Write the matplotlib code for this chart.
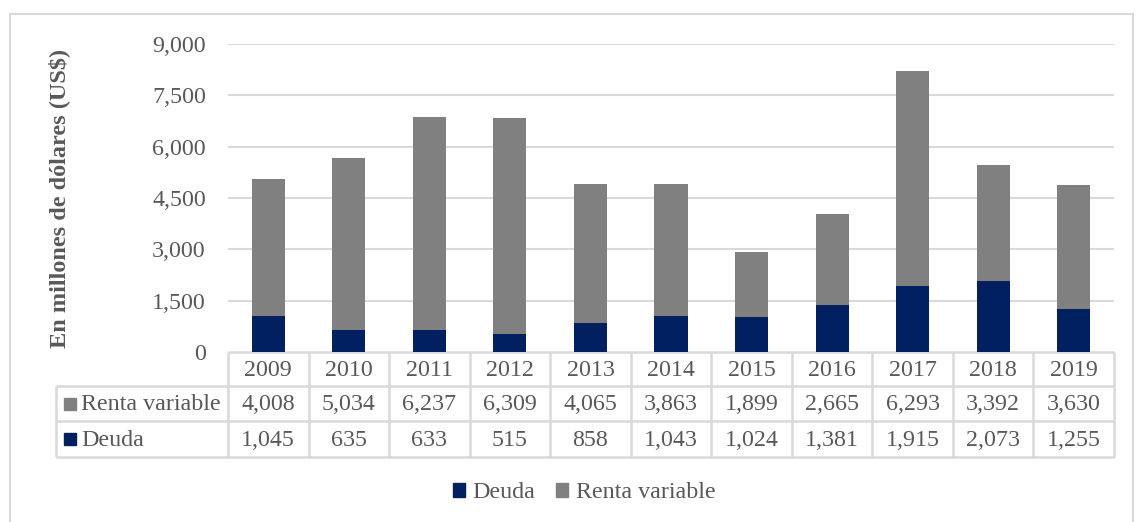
import matplotlib
matplotlib.use("Agg")
import matplotlib.pyplot as plt
from matplotlib.patches import Patch

years = ["2009", "2010", "2011", "2012", "2013", "2014", "2015", "2016", "2017", "2018", "2019"]
renta_variable = [4008, 5034, 6237, 6309, 4065, 3863, 1899, 2665, 6293, 3392, 3630]
deuda = [1045, 635, 633, 515, 858, 1043, 1024, 1381, 1915, 2073, 1255]
y_ticks = [0, 1500, 3000, 4500, 6000, 7500, 9000]

NAVY = "#002060"
GRAY = "#808080"
TXT = "#595959"
GRID = "#d9d9d9"
W, H = 1136, 522
FS = 17.3

plt.rcParams["font.family"] = ["Liberation Serif", "DejaVu Serif"]

fig = plt.figure(figsize=(W / 100, H / 100), dpi=100)

# overlay in pixel coordinates
ov = fig.add_axes([0, 0, 1, 1])
ov.set_xlim(0, W)
ov.set_ylim(H, 0)
ov.axis("off")
ov.set_zorder(0)

# outer border
ov.plot([10, 10, 1133, 1133], [H, 14, 14, H], color=GRID, lw=1.5, clip_on=False)

L, R, T, B = 228, 1114, 44, 352
ax = fig.add_axes([L / W, 1 - B / H, (R - L) / W, (B - T) / H])
ax.set_zorder(1)
ax.patch.set_alpha(0)
n = len(years)
x = list(range(n))
ax.bar(x, deuda, width=0.41, color=NAVY, zorder=3)
ax.bar(x, renta_variable, bottom=deuda, width=0.41, color=GRAY, zorder=3)
ax.set_xlim(-0.5, n - 0.5)
ax.set_ylim(0, 9000)
ax.set_yticks(y_ticks)
ax.set_yticklabels([f"{v:,}" for v in y_ticks], color=TXT, fontsize=FS)
ax.tick_params(axis="y", length=0, pad=16)
ax.set_xticks([])
for s in ax.spines.values():
    s.set_visible(False)
for v in y_ticks[1:]:
    ax.axhline(v, color=GRID, lw=1.5, zorder=1)
ax.set_ylabel("En millones de dólares (US$)", fontsize=17.5, fontweight="bold", color=TXT)
ax.yaxis.set_label_coords((70 - L) / (R - L), 0.5)

# data table
colw = (R - L) / n
r0, r1, r2, r3 = 352, 386, 421, 457
TL = 56
lk = dict(color=GRID, lw=1.8, solid_capstyle="butt", zorder=2)
ov.plot([L, R], [r0, r0], **lk)
for yy in (r1, r2, r3):
    ov.plot([TL, R], [yy, yy], **lk)
ov.plot([TL, TL], [r1, r3], **lk)
for i in range(n + 1):
    xx = L + i * colw
    ov.plot([xx, xx], [r0, r3], **lk)
for i, yr in enumerate(years):
    cx = L + (i + 0.5) * colw
    ov.text(cx, (r0 + r1) / 2 + 1, yr, ha="center", va="center", fontsize=FS, color=TXT)
    ov.text(cx, (r1 + r2) / 2 + 1, f"{renta_variable[i]:,}", ha="center", va="center", fontsize=FS, color=TXT)
    ov.text(cx, (r2 + r3) / 2 + 1, f"{deuda[i]:,}", ha="center", va="center", fontsize=FS, color=TXT)
for (yy0, yy1), lab, col in (((r1, r2), "Renta variable", GRAY), ((r2, r3), "Deuda", NAVY)):
    cy = (yy0 + yy1) / 2
    ov.add_patch(plt.Rectangle((64, cy - 6), 12, 12, color=col))
    ov.text(81, cy + 1, lab, ha="left", va="center", fontsize=FS, color=TXT)

handles = [Patch(color=NAVY, label="Deuda"), Patch(color=GRAY, label="Renta variable")]
fig.legend(handles=handles, loc="center", bbox_to_anchor=(584 / W, 1 - 493 / H), ncol=2,
           frameon=False, fontsize=FS, handlelength=0.5, handleheight=0.5,
           handletextpad=0.3, columnspacing=0.9, labelcolor=TXT)

fig.savefig("out.png", dpi=100)
